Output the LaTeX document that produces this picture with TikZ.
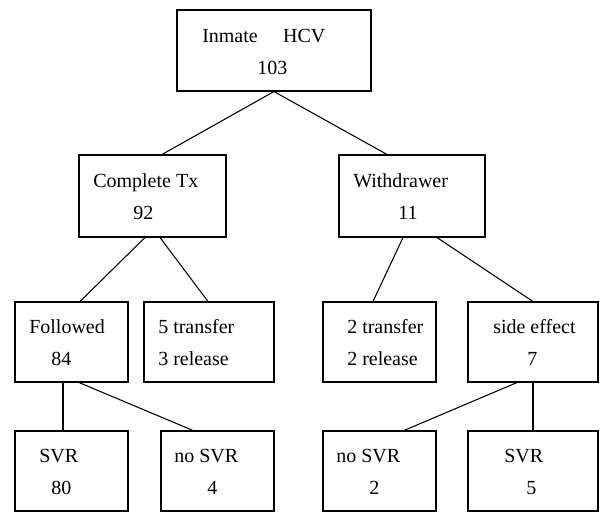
\documentclass[tikz,border=0pt]{standalone}
\usepackage{fontspec}
\setmainfont{Liberation Serif}
\usetikzlibrary{calc}
\begin{document}
\begin{tikzpicture}[x=0.75pt,y=-0.75pt,
  box/.style={draw,line width=0.8pt,inner sep=0pt,rectangle},
  lbl/.style={inner sep=0pt,anchor=base west,font=\fontsize{15}{18}\selectfont},
  link/.style={draw,line width=0.8pt}]
\useasboundingbox (0,0) rectangle (601,512);
% boxes
\node[box,minimum width=145.5pt,minimum height=60.75pt] (top) at (274,50.5) {};
\node[box,minimum width=110.25pt,minimum height=61.5pt] (cx) at (152.5,196) {};
\node[box,minimum width=109.5pt,minimum height=61.5pt] (wd) at (412,196) {};
\node[box,minimum width=84.75pt,minimum height=60pt] (fo) at (71.5,342) {};
\node[box,minimum width=97.5pt,minimum height=60pt] (tf) at (209,342) {};
\node[box,minimum width=84.75pt,minimum height=60pt] (tt) at (379.5,342) {};
\node[box,minimum width=97.5pt,minimum height=60pt] (se) at (533,342) {};
\node[box,minimum width=84.75pt,minimum height=60pt] (sa) at (71.5,471) {};
\node[box,minimum width=84.75pt,minimum height=60pt] (nb) at (217.5,471) {};
\node[box,minimum width=84.75pt,minimum height=60pt] (nc) at (379.5,471) {};
\node[box,minimum width=97.5pt,minimum height=60pt] (sd) at (533,471) {};
% labels
\node[lbl] (topa) at (202,42) {Inmate\hspace{19pt}HCV};
\node[lbl] (topb) at (257,74) {103};
\node[lbl] (cxa) at (93,187) {Complete Tx};
\node[lbl] (cxb) at (133,219) {92};
\node[lbl] (wda) at (353,187) {Withdrawer};
\node[lbl] (wdb) at (398,219) {11};
\node[lbl] (foa) at (29,333) {Followed};
\node[lbl] (fob) at (51,365) {84};
\node[lbl] (tfa) at (158,333) {5 transfer};
\node[lbl] (tfb) at (158,365) {3 release};
\node[lbl] (tta) at (347,333) {2 transfer};
\node[lbl] (ttb) at (347,365) {2 release};
\node[lbl] (sea) at (493,333) {side effect};
\node[lbl] (seb) at (527,365) {7};
\node[lbl] (saa) at (39,462) {SVR};
\node[lbl] (sab) at (51,494) {80};
\node[lbl] (nba) at (174,462) {no SVR};
\node[lbl] (nbb) at (207,494) {4};
\node[lbl] (nca) at (336,462) {no SVR};
\node[lbl] (ncb) at (369,494) {2};
\node[lbl] (sda) at (504,462) {SVR};
\node[lbl] (sdb) at (526,494) {5};
% connectors
\path[link] (top.south) -- ($(cx.north)+(9.5,0)$);
\path[link] (top.south) -- ($(wd.north)+(-25,0)$);
\path[link] ($(cx.south)+(-7.5,0)$) -- ($(fo.north)+(8.5,0)$);
\path[link] ($(cx.south)+(7.5,0)$) -- ($(tf.north)+(-1,0)$);
\path[link] ($(wd.south)+(-9,0)$) -- ($(tt.north)+(-6.5,0)$);
\path[link] ($(wd.south)+(25,0)$) -- (se.north);
\path[link] ($(fo.south)+(-8.5,0)$) -- ($(sa.north)+(-8.5,0)$);
\path[link] ($(fo.south)+(7.5,0)$) -- ($(nb.north)+(-24.5,0)$);
\path[link] ($(se.south)+(-16,0)$) -- ($(nc.north)+(24.5,0)$);
\path[link] (se.south) -- (sd.north);
\end{tikzpicture}
\end{document}
